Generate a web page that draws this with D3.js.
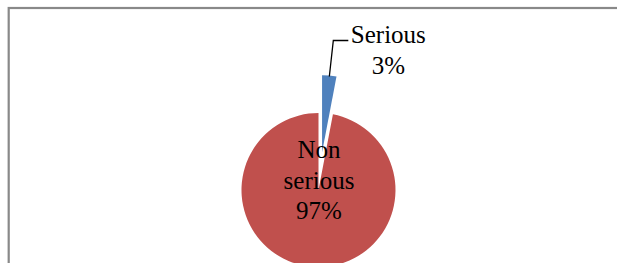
<!DOCTYPE html>
<html>
<head>
<meta charset="utf-8">
<script src="https://cdn.jsdelivr.net/npm/d3@7"></script>
<style>
    body { margin: 0; background: #fff; }
    svg { display: block; }
    .lbl { font-family: "Liberation Serif", "Times New Roman", serif; font-size: 25px; fill: #000; }
</style>
</head>
<body>
<svg id="chart"></svg>
<script>
// data
var categories = ['Serious', 'Non serious'];
var shares = [3, 97];
var pctLabels = ['3%', '97%'];
var colors = ['#4F81BD', '#C0504D'];

var width = 617,
    height = 263;

var svg = d3.select('#chart')
    .attr('width', width)
    .attr('height', height);

// chart area border (right and bottom fall outside the picture)
svg.append('rect')
    .attr('x', 8.7)
    .attr('y', 8)
    .attr('width', 620)
    .attr('height', 280)
    .attr('fill', 'none')
    .attr('stroke', '#898989')
    .attr('stroke-width', 2.2);

var cx = 318.5,
    cy = 190,
    radius = 77,
    explode = 38;

var pie = d3.pie()
    .sort(null)
    .value(function(d) { return d; });

var arcs = pie(shares);

var arc = d3.arc()
    .innerRadius(0)
    .outerRadius(radius);

var g = svg.append('g')
    .attr('transform', 'translate(' + cx + ',' + cy + ')');

function midAngle(d) {
    return (d.startAngle + d.endAngle) / 2;
}

g.selectAll('path.slice')
    .data(arcs)
    .enter()
    .append('path')
    .attr('class', 'slice')
    .attr('d', arc)
    .attr('fill', function(d, i) { return colors[i]; })
    .attr('transform', function(d, i) {
        // only the small slice is pulled out
        if (i !== 0) return null;
        var a = midAngle(d);
        return 'translate(' + (Math.sin(a) * explode) + ',' + (-Math.cos(a) * explode) + ')';
    });

// leader line for the exploded slice
var s = arcs[0];
var a0 = midAngle(s);
var p0 = [Math.sin(a0) * (radius + explode), -Math.cos(a0) * (radius + explode) + 1];
var p1 = [p0[0] + 4, p0[1] - 36];
var p2 = [p1[0] + 15, p1[1]];
g.append('polyline')
    .attr('points', [p0, p1, p2].map(function(p) { return p.join(','); }).join(' '))
    .attr('fill', 'none')
    .attr('stroke', '#000')
    .attr('stroke-width', 1.3);

// labels
var lineH = 30.5;
var seriousLbl = g.append('text')
    .attr('class', 'lbl')
    .attr('text-anchor', 'middle');
seriousLbl.append('tspan')
    .attr('x', p2[0] + 40)
    .attr('y', p2[1] + 2.5)
    .text(categories[0]);
seriousLbl.append('tspan')
    .attr('x', p2[0] + 40)
    .attr('y', p2[1] + 2.5 + lineH)
    .text(pctLabels[0]);

var bigLbl = g.append('text')
    .attr('class', 'lbl')
    .attr('text-anchor', 'middle');
var bigLines = categories[1].split(' ').concat([pctLabels[1]]);
bigLbl.selectAll('tspan')
    .data(bigLines)
    .enter()
    .append('tspan')
    .attr('x', 0.5)
    .attr('y', function(d, i) { return -32 + i * lineH; })
    .text(function(d) { return d; });
</script>
</body>
</html>
